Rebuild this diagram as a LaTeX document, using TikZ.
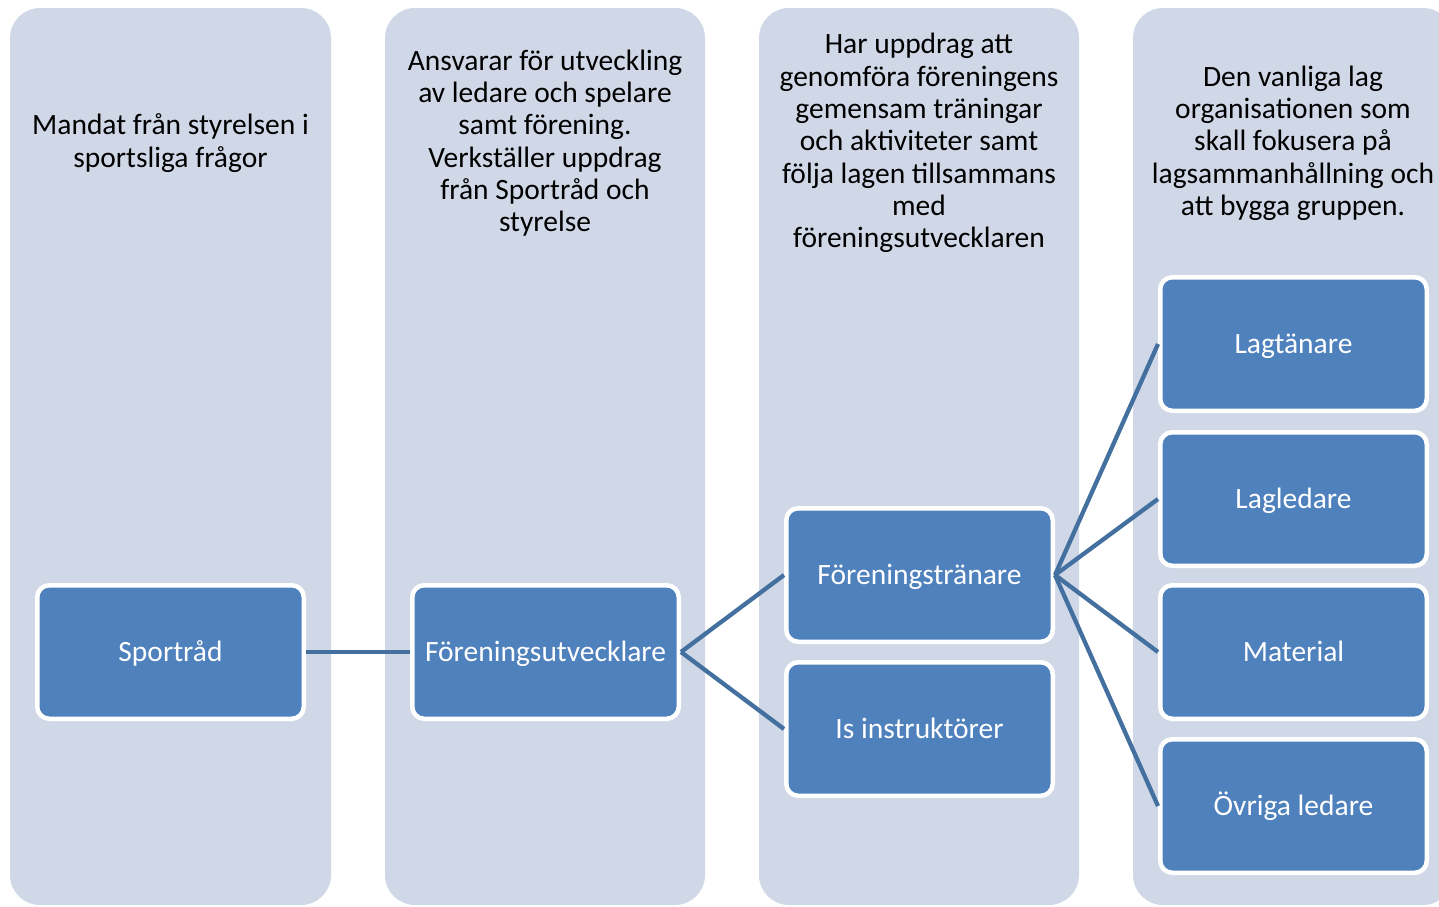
\documentclass[tikz,border=0pt]{standalone}
\usepackage{fontspec}
\setmainfont{Carlito}
\definecolor{colbg}{HTML}{D0D8E8}
\definecolor{boxblue}{HTML}{4F81BD}
\definecolor{linkblue}{HTML}{44709F}
\tikzset{
  colpanel/.style={fill=colbg, draw=none, rounded corners=30pt},
  coltext/.style={align=center, text=black, font=\fontsize{29.5}{32.3}\selectfont, inner sep=0pt},
  box/.style={draw=white, line width=4.5pt, fill=boxblue, rounded corners=12pt,
    minimum width=266.5pt, minimum height=133.5pt, text=white,
    text height=24pt, text depth=6pt,
    font=\fontsize{29.5}{32}\selectfont, inner sep=0pt},
  link/.style={draw=linkblue, line width=4.3pt}
}
\begin{document}
\begin{tikzpicture}[x=1pt,y=-1pt]
\useasboundingbox (0,0) rectangle (1439,906);
\begin{scope}
\clip (0,0) rectangle (1439,906);
\fill[colpanel] (10,8) rectangle (331,905);
\fill[colpanel] (385,8) rectangle (705,905);
\fill[colpanel] (759,8) rectangle (1079,905);
\fill[colpanel] (1133,8) rectangle (1453,905);
\end{scope}

\node[coltext] (t1) at (170.5,143) {Mandat från styrelsen i\\sportsliga frågor};
\node[coltext] (t2) at (545,143) {Ansvarar för utveckling\\av ledare och spelare\\samt förening.\\Verkställer uppdrag\\från Sportråd och\\styrelse};
\node[coltext] (t3) at (919,143) {Har uppdrag att\\genomföra föreningens\\gemensam träningar\\och aktiviteter samt\\följa lagen tillsammans\\med\\föreningsutvecklaren};
\node[coltext] (t4) at (1293,143) {Den vanliga lag\\organisationen som\\skall fokusera på\\lagsammanhållning och\\att bygga gruppen.};

\node[box] (sport) at (170.5,652) {Sportråd};
\node[box] (fu) at (545.5,652) {Föreningsutvecklare};
\node[box] (ft) at (919.5,575) {Föreningstränare};
\node[box] (is) at (919.5,729) {Is instruktörer};
\node[box] (lt) at (1293.5,344) {Lagtänare};
\node[box] (ll) at (1293.5,499) {Lagledare};
\node[box] (mat) at (1293.5,652) {Material};
\node[box] (ov) at (1293.5,806) {Övriga ledare};

\draw[link] (sport.east) -- (fu.west);
\draw[link] (fu.east) -- (ft.west);
\draw[link] (fu.east) -- (is.west);
\draw[link] (ft.east) -- (lt.west);
\draw[link] (ft.east) -- (ll.west);
\draw[link] (ft.east) -- (mat.west);
\draw[link] (ft.east) -- (ov.west);
\end{tikzpicture}
\end{document}
